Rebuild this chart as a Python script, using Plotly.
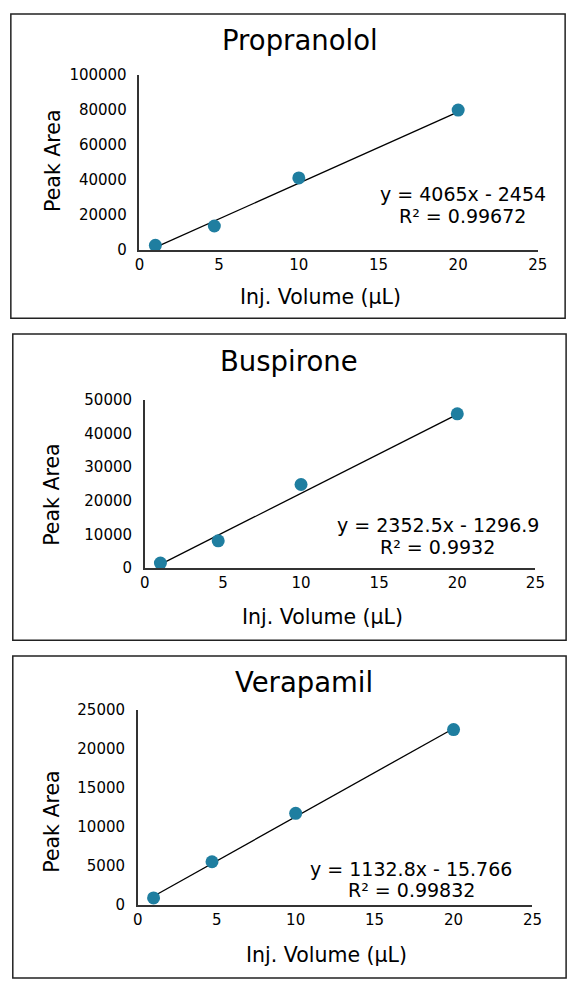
import plotly.graph_objects as go

# values
drugs = ['Propranolol', 'Buspirone', 'Verapamil']
inj_volume = [1, 4.7, 10, 20]
peak_propranolol = [2800, 13800, 41200, 79900]
peak_buspirone = [1460, 8070, 24850, 45900]
peak_verapamil = [900, 5540, 11750, 22500]
slopes = [4065, 2352.5, 1132.8]
intercepts = [-2454, -1296.9, -15.766]
eq_labels = ['y = 4065x - 2454', 'y = 2352.5x - 1296.9', 'y = 1132.8x - 15.766']
r2_labels = ['R² = 0.99672', 'R² = 0.9932', 'R² = 0.99832']
y_max = [100000, 50000, 25000]
y_step = [20000, 10000, 5000]
x_ticks = [0, 5, 10, 15, 20, 25]

W, H = 580, 992
FONT = 'DejaVu Sans'
dot_col = '#1f7ea0'


def px(x):
    return x / W


def py(y):
    return 1 - y / H


# pixel layout of each panel: box, plot area, title / axis title / equation spots
panels = [
    dict(box=(6, 5, 575, 315), xd=(138, 547), yd=(245.7, 67),
         title=(303, 32), ytitle=(49, 155), xtitle=(324, 293), eq=(470, 188, 211)),
    dict(box=(8, 331, 576, 643), xd=(143.5, 544.5), yd=(569.3, 398.3),
         title=(292, 358), ytitle=(48, 495), xtitle=(326, 619), eq=(444, 526, 548)),
    dict(box=(8, 659, 576, 987), xd=(136.3, 541.5), yd=(912.5, 714),
         title=(307, 685), ytitle=(48, 828), xtitle=(330, 963), eq=(417, 876, 897)),
]
peaks = [peak_propranolol, peak_buspirone, peak_verapamil]

fig = go.Figure()
shapes = []
annots = []
lay = {}

for i in range(3):
    p = panels[i]
    n = '' if i == 0 else str(i + 1)
    xa = 'x' + n
    ya = 'y' + n

    # trendline from the fitted equation
    x_fit = [inj_volume[0], inj_volume[-1]]
    y_fit = [slopes[i] * v + intercepts[i] for v in x_fit]
    fig.add_trace(go.Scatter(x=x_fit, y=y_fit, mode='lines', xaxis=xa, yaxis=ya,
                             line=dict(color='black', width=1.3), showlegend=False,
                             hoverinfo='skip'))
    fig.add_trace(go.Scatter(x=inj_volume, y=peaks[i], mode='markers', xaxis=xa, yaxis=ya,
                             marker=dict(color=dot_col, size=13), showlegend=False,
                             name=drugs[i]))

    lay['xaxis' + n] = dict(domain=[px(p['xd'][0]), px(p['xd'][1])], anchor=ya,
                            range=[0, 25], tickvals=x_ticks, showgrid=False, zeroline=False,
                            showline=True, linecolor='#333333', linewidth=1.5,
                            ticks='', tickfont=dict(size=15, color='black', family=FONT))
    lay['yaxis' + n] = dict(domain=[py(p['yd'][0]), py(p['yd'][1])], anchor=xa,
                            range=[0, y_max[i]], dtick=y_step[i], tickformat='d',
                            showgrid=False, zeroline=False, showline=True,
                            linecolor='#333333', linewidth=1.5,
                            ticks='', ticklabelstandoff=8,
                            tickfont=dict(size=15, color='black', family=FONT))

    b = p['box']
    shapes.append(dict(type='rect', xref='paper', yref='paper',
                       x0=px(b[0]), x1=px(b[2]), y0=py(b[3]), y1=py(b[1]),
                       line=dict(color='#222222', width=1.5)))

    annots.append(dict(text=drugs[i], x=px(p['title'][0]), y=py(p['title'][1]),
                       font=dict(size=27.5)))
    annots.append(dict(text='Peak Area', x=px(p['ytitle'][0]), y=py(p['ytitle'][1]),
                       textangle=-90, font=dict(size=20.5)))
    annots.append(dict(text='Inj. Volume (µL)', x=px(p['xtitle'][0]), y=py(p['xtitle'][1]),
                       font=dict(size=20.5)))
    annots.append(dict(text=eq_labels[i], x=px(p['eq'][0]), y=py(p['eq'][1]),
                       font=dict(size=19)))
    annots.append(dict(text=r2_labels[i], x=px(p['eq'][0]), y=py(p['eq'][2]),
                       font=dict(size=19)))

for a in annots:
    a.update(xref='paper', yref='paper', showarrow=False, xanchor='center', yanchor='middle')
    a['font'].update(family=FONT, color='black')

fig.update_layout(width=W, height=H, margin=dict(l=0, r=0, t=0, b=0),
                  paper_bgcolor='white', plot_bgcolor='white',
                  font=dict(family=FONT, color='black'),
                  shapes=shapes, annotations=annots, **lay)

# page body has an 8px margin by default, drop it so the figure fills the window
fig.write_html('out.html', config={'displayModeBar': False},
               post_script="document.body.style.margin='0';")
